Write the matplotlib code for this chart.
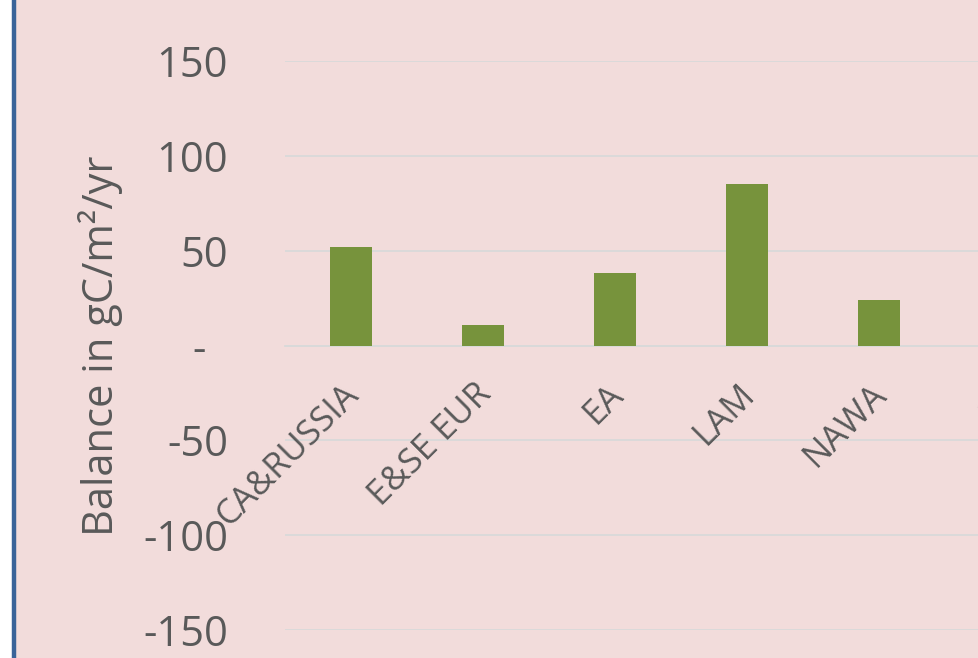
import matplotlib
matplotlib.use("Agg")
import matplotlib.pyplot as plt
from matplotlib.patches import Rectangle
from matplotlib.ticker import FuncFormatter
from matplotlib.transforms import ScaledTranslation

# Данные (график обрезан справа: последняя категория видна лишь частично)
regions = ['CA&RUSSIA', 'E&SE EUR', 'EA', 'LAM', 'NAWA', 'SA']
balance = [52, 11, 38, 85, 24, float('nan')]
y_ticks = [-150, -100, -50, 0, 50, 100, 150]

plt.rcParams['font.family'] = ['Open Sans', 'DejaVu Sans']

fig = plt.figure(figsize=(9.79, 6.58), dpi=100)
fig.patch.set_facecolor('white')

# Рамка области диаграммы
fig.patches.append(Rectangle((14.5 / 979, -0.1), 1.2, 1.2, transform=fig.transFigure,
                             facecolor='#F2DCDB', edgecolor='#3A6499', linewidth=3.2,
                             zorder=-10))

ax = fig.add_axes([285 / 979, 28 / 658, 792 / 979, 569 / 658])
ax.set_facecolor('none')
ax.set_zorder(5)

# Ось категорий проходит через ноль
for s in ['top', 'right', 'left']:
    ax.spines[s].set_visible(False)
ax.spines['bottom'].set_position(('data', 0))
ax.spines['bottom'].set_color('#D9D9D9')
ax.spines['bottom'].set_linewidth(1.3)

x = list(range(len(regions)))
ax.bar(x, balance, width=0.32, color='#77933C', zorder=3)

ax.set_xlim(-0.5, len(regions) - 0.5)
ax.set_ylim(-150, 150)
ax.set_yticks(y_ticks)
ax.yaxis.set_major_formatter(FuncFormatter(lambda v, p: '-  ' if v == 0 else f'{v:g}'))
ax.tick_params(axis='y', length=0, pad=41, labelsize=30, labelcolor='#595959')

ax.tick_params(axis='x', length=0, pad=23, labelsize=25, labelcolor='#595959')
ax.set_xticks(x)
ax.set_xticklabels(regions)
shift = ScaledTranslation(-0.09, 0, fig.dpi_scale_trans)
for lbl in ax.get_xticklabels():
    lbl.set_rotation(45)
    lbl.set_ha('right')
    lbl.set_va('top')
    lbl.set_rotation_mode('anchor')
    lbl.set_transform(lbl.get_transform() + shift)

ax.grid(axis='y', color='#D9D9D9', linewidth=1.3, zorder=0)
ax.set_axisbelow(True)
ax.xaxis.set_zorder(1)  # подписи категорий поверх линий сетки

ax.set_ylabel('Balance in gC/m²/yr', fontsize=30, color='#595959')
ax.yaxis.set_label_coords(-0.204, 0.5)

fig.savefig('out.png', dpi=100)
